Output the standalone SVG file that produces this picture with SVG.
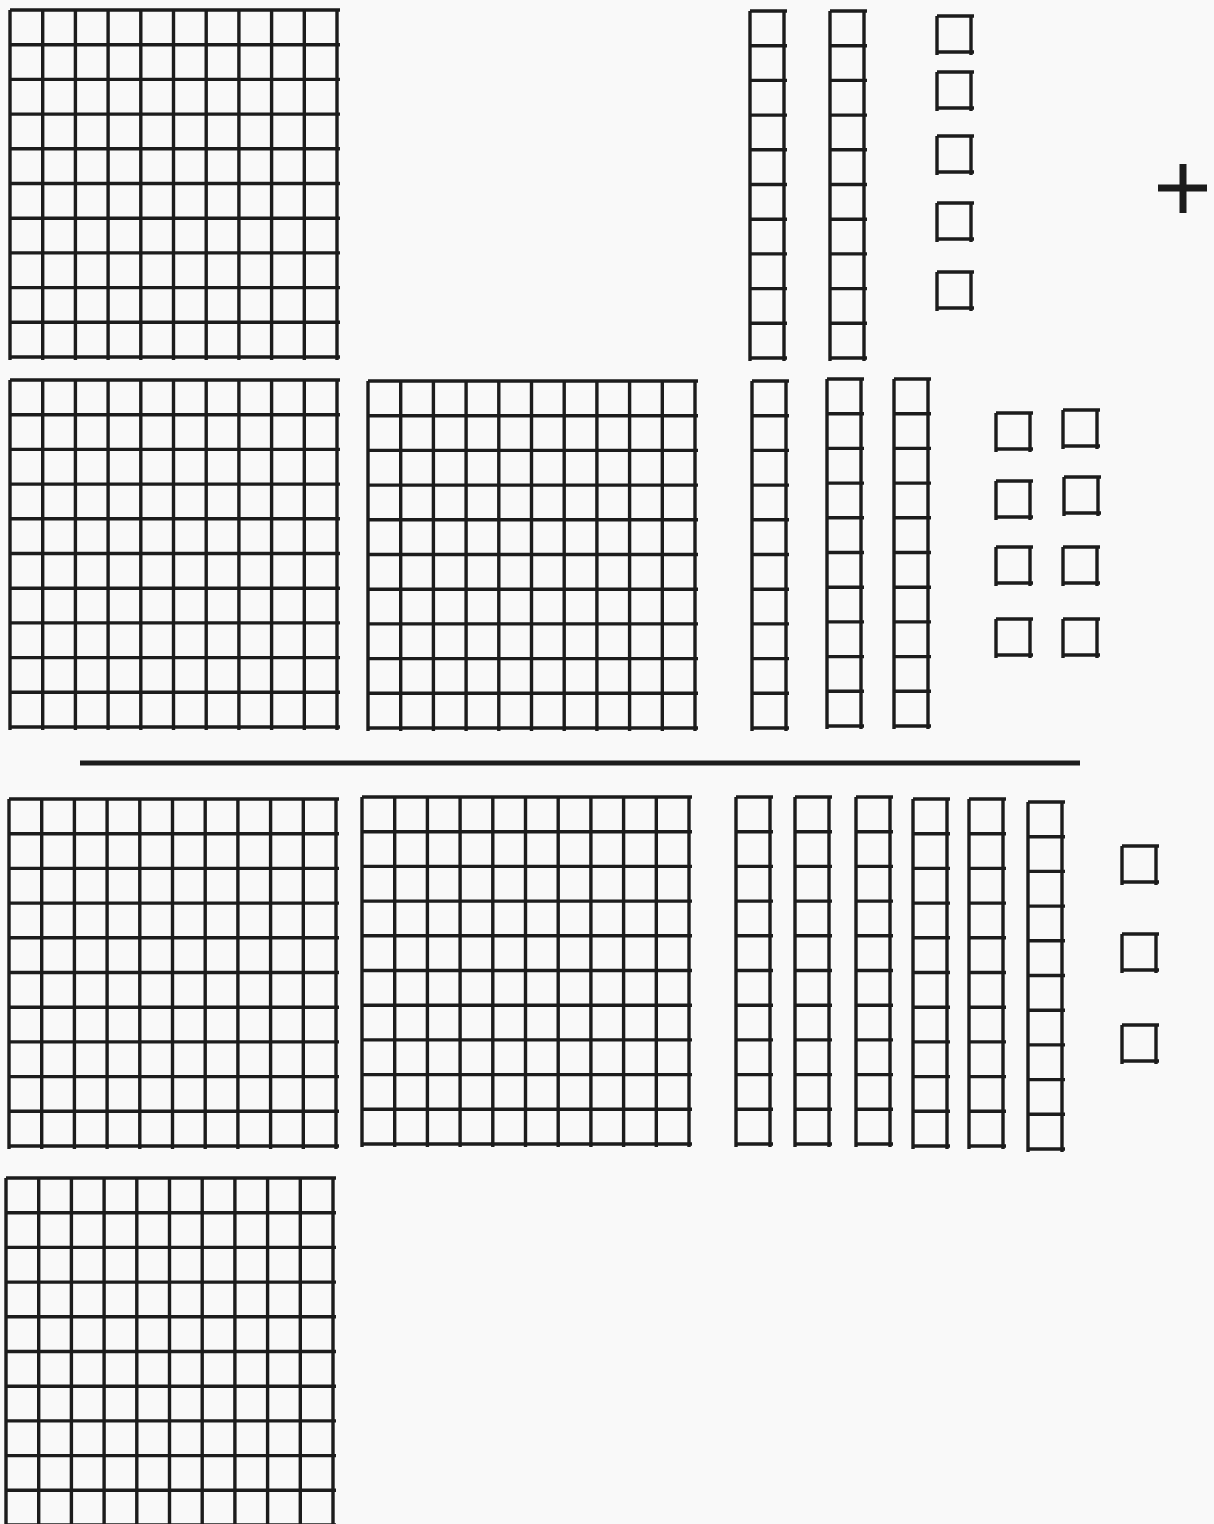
<svg xmlns="http://www.w3.org/2000/svg" xmlns:xlink="http://www.w3.org/1999/xlink" width="1214" height="1524" viewBox="0 0 1214 1524">
<style>
.blk{fill:none;stroke:#1c1c1c;stroke-width:3.4;stroke-linecap:butt}
.bar{stroke:#1c1c1c;stroke-linecap:butt}
</style>
<defs>
<path id="flat" class="blk" d="M0 0h330M0 34.7h330M0 69.4h330M0 104.1h330M0 138.8h330M0 173.5h330M0 208.2h330M0 242.9h330M0 277.6h330M0 312.3h330M0 347h330M0 0v350M32.7 0v350M65.4 0v350M98.1 0v350M130.8 0v350M163.5 0v350M196.2 0v350M228.9 0v350M261.6 0v350M294.3 0v350M327 0v350"/>
<path id="rod" class="blk" d="M0 0h37M0 34.7h37M0 69.4h37M0 104.1h37M0 138.8h37M0 173.5h37M0 208.2h37M0 242.9h37M0 277.6h37M0 312.3h37M0 347h37M0 0v350M34 0v350"/>
<path id="unit" class="blk" d="M0 0h37M0 36h37M0 0v39M34 0v39"/>
</defs>
<rect width="1214" height="1524" fill="#f9f9f9"/>
<g id="flats">
<use id="flat-a" xlink:href="#flat" href="#flat" x="10" y="10"/>
<use id="flat-b" xlink:href="#flat" href="#flat" x="10" y="380"/>
<use id="flat-c" xlink:href="#flat" href="#flat" x="368" y="381"/>
<use id="flat-d" xlink:href="#flat" href="#flat" x="9" y="799"/>
<use id="flat-e" xlink:href="#flat" href="#flat" x="362" y="797"/>
<use id="flat-f" xlink:href="#flat" href="#flat" x="6" y="1178"/>
</g>
<g id="rods">
<use id="rod-1" xlink:href="#rod" href="#rod" x="750" y="11"/>
<use id="rod-2" xlink:href="#rod" href="#rod" x="830" y="11"/>
<use id="rod-3" xlink:href="#rod" href="#rod" x="752" y="381"/>
<use id="rod-4" xlink:href="#rod" href="#rod" x="827" y="379"/>
<use id="rod-5" xlink:href="#rod" href="#rod" x="894" y="379"/>
<use id="rod-6" xlink:href="#rod" href="#rod" x="736" y="797"/>
<use id="rod-7" xlink:href="#rod" href="#rod" x="795" y="797"/>
<use id="rod-8" xlink:href="#rod" href="#rod" x="856" y="797"/>
<use id="rod-9" xlink:href="#rod" href="#rod" x="913" y="799"/>
<use id="rod-10" xlink:href="#rod" href="#rod" x="969" y="799"/>
<use id="rod-11" xlink:href="#rod" href="#rod" x="1028" y="802"/>
</g>
<g id="units">
<use id="unit-1" xlink:href="#unit" href="#unit" x="937" y="16"/>
<use id="unit-2" xlink:href="#unit" href="#unit" x="937" y="72"/>
<use id="unit-3" xlink:href="#unit" href="#unit" x="937" y="136"/>
<use id="unit-4" xlink:href="#unit" href="#unit" x="937" y="203"/>
<use id="unit-5" xlink:href="#unit" href="#unit" x="937" y="272"/>
<use id="unit-6" xlink:href="#unit" href="#unit" x="996" y="413"/>
<use id="unit-7" xlink:href="#unit" href="#unit" x="1063" y="410"/>
<use id="unit-8" xlink:href="#unit" href="#unit" x="996" y="481"/>
<use id="unit-9" xlink:href="#unit" href="#unit" x="1064" y="477"/>
<use id="unit-10" xlink:href="#unit" href="#unit" x="996" y="547"/>
<use id="unit-11" xlink:href="#unit" href="#unit" x="1063" y="547"/>
<use id="unit-12" xlink:href="#unit" href="#unit" x="996" y="619"/>
<use id="unit-13" xlink:href="#unit" href="#unit" x="1063" y="619"/>
<use id="unit-14" xlink:href="#unit" href="#unit" x="1122" y="846"/>
<use id="unit-15" xlink:href="#unit" href="#unit" x="1122" y="934"/>
<use id="unit-16" xlink:href="#unit" href="#unit" x="1122" y="1025"/>
</g>
<g id="plus-sign">
<path class="bar" stroke-width="7" d="M1158 188H1207M1183 164V213"/>
</g>
<g id="sum-line">
<path class="bar" stroke-width="5" d="M80 763H1080"/>
</g>
</svg>
